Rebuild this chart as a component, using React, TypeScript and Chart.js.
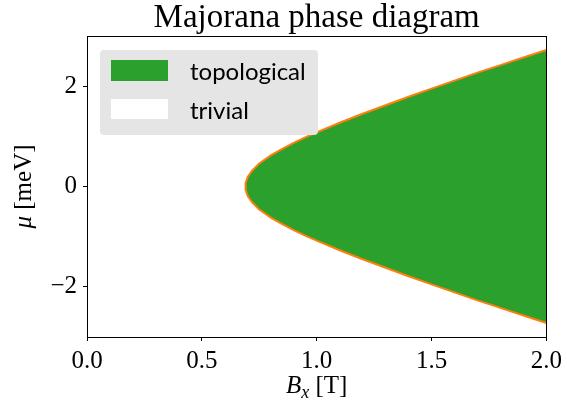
import { useEffect, useRef } from "react";
import { Chart, registerables } from "chart.js";

Chart.register(...registerables);

// Magnetic field values along the phase boundary [T]
const fieldB = [0.69, 0.691, 0.695, 0.7, 0.71, 0.72, 0.75, 0.8, 0.85, 0.9, 0.95, 1.0, 1.1, 1.2, 1.3, 1.4, 1.5, 1.6, 1.7, 1.8, 1.9, 2.0];
// Upper edge of the topological region, chemical potential [meV]
const muUpper = [0.0, 0.07, 0.13, 0.19, 0.26, 0.32, 0.46, 0.62, 0.75, 0.87, 0.98, 1.08, 1.27, 1.45, 1.62, 1.79, 1.95, 2.11, 2.27, 2.42, 2.57, 2.72];
// Lower edge of the topological region, chemical potential [meV]
const muLower = [0.0, -0.07, -0.13, -0.19, -0.26, -0.32, -0.46, -0.62, -0.75, -0.87, -0.98, -1.08, -1.27, -1.45, -1.62, -1.79, -1.95, -2.11, -2.27, -2.42, -2.57, -2.72];

const xTicks = [0, 0.5, 1.0, 1.5, 2.0];
const yTicks = [-2, 0, 2];
const legendLabels = ["topological", "trivial"];

const GREEN = "#2ca02c";
const ORANGE = "#ff7f0e";
const SERIF = "'Liberation Serif', 'DejaVu Serif', serif";
const SANS = "Lato, 'DejaVu Sans', sans-serif";

const decorations = {
  id: "decorations",
  afterDatasetsDraw(chart: Chart) {
    const { ctx, chartArea } = chart;
    const { left, right, top, bottom } = chartArea;
    ctx.save();
    // axes frame
    ctx.strokeStyle = "#000";
    ctx.lineWidth = 1;
    ctx.strokeRect(Math.round(left) + 0.5, Math.round(top) + 0.5, Math.round(right - left), Math.round(bottom - top));

    // legend
    ctx.fillStyle = "#e5e5e5";
    ctx.beginPath();
    (ctx as any).roundRect(100, 50, 218, 85, 4);
    ctx.fill();
    ctx.fillStyle = GREEN;
    ctx.fillRect(111, 60, 57, 21);
    ctx.fillStyle = "#ffffff";
    ctx.fillRect(111, 99, 57, 20);
    ctx.fillStyle = "#000";
    ctx.font = `24px ${SANS}`;
    ctx.textAlign = "left";
    ctx.textBaseline = "alphabetic";
    ctx.fillText(legendLabels[0], 190, 80);
    ctx.fillText(legendLabels[1], 190, 119);
    ctx.restore();
  },
  afterDraw(chart: Chart) {
    const { ctx, chartArea } = chart;
    const cx = (chartArea.left + chartArea.right) / 2;
    const cy = (chartArea.top + chartArea.bottom) / 2;
    ctx.save();
    ctx.fillStyle = "#000";
    ctx.textBaseline = "alphabetic";

    // title
    ctx.font = `33px ${SERIF}`;
    ctx.textAlign = "center";
    ctx.fillText("Majorana phase diagram", cx, 27);

    // x axis title: B_x [T]
    ctx.textAlign = "left";
    const fMain = `italic 25px ${SERIF}`;
    const fSub = `italic 18px ${SERIF}`;
    const fUnit = `25px ${SERIF}`;
    ctx.font = fMain;
    const wB = ctx.measureText("B").width;
    ctx.font = fSub;
    const wx = ctx.measureText("x").width;
    ctx.font = fUnit;
    const wT = ctx.measureText(" [T]").width;
    const x0 = cx - (wB + wx + wT) / 2;
    const by = 393;
    ctx.font = fMain;
    ctx.fillText("B", x0, by);
    ctx.font = fSub;
    ctx.fillText("x", x0 + wB, by + 5);
    ctx.font = fUnit;
    ctx.fillText(" [T]", x0 + wB + wx, by);

    // y axis title: mu [meV]
    ctx.translate(31, cy);
    ctx.rotate(-Math.PI / 2);
    ctx.font = fMain;
    const wMu = ctx.measureText("\u03bc").width;
    ctx.font = fUnit;
    const wMeV = ctx.measureText(" [meV]").width;
    const y0 = -(wMu + wMeV) / 2;
    ctx.font = fMain;
    ctx.fillText("\u03bc", y0, 0);
    ctx.font = fUnit;
    ctx.fillText(" [meV]", y0 + wMu, 0);
    ctx.restore();
  },
};

export default function App() {
  const ref = useRef<HTMLCanvasElement>(null);

  useEffect(() => {
    const lower = fieldB.map((b, i) => ({ x: b, y: muLower[i] })).reverse();
    const upper = fieldB.map((b, i) => ({ x: b, y: muUpper[i] })).slice(1);
    const boundary = [...lower, ...upper];

    const tickFont = { family: SERIF, size: 25 };

    const chart = new Chart(ref.current!, {
      type: "scatter",
      data: {
        datasets: [
          {
            data: boundary,
            showLine: true,
            borderColor: ORANGE,
            borderWidth: 2,
            backgroundColor: GREEN,
            fill: "shape" as any,
            pointRadius: 0,
            pointHoverRadius: 0,
            tension: 0,
          },
        ],
      },
      options: {
        animation: false,
        responsive: false,
        devicePixelRatio: 1,
        events: [],
        layout: { padding: { top: 36, right: 15, left: 0, bottom: 0 } },
        plugins: {
          legend: { display: false },
          title: { display: false },
          tooltip: { enabled: false },
        },
        scales: {
          x: {
            type: "linear",
            min: 0,
            max: 2,
            afterBuildTicks: (s: any) => {
              s.ticks = xTicks.map((v) => ({ value: v }));
            },
            afterFit: (s: any) => {
              s.height = 71;
            },
            ticks: {
              font: tickFont,
              color: "#000",
              padding: 5,
              maxRotation: 0,
              callback: (v: any) => Number(v).toFixed(1),
            },
            grid: { display: true, drawOnChartArea: false, drawTicks: true, tickLength: 4, color: "#000", lineWidth: 1 },
            border: { display: false },
          },
          y: {
            type: "linear",
            min: -3,
            max: 3,
            afterBuildTicks: (s: any) => {
              s.ticks = yTicks.map((v) => ({ value: v }));
            },
            afterFit: (s: any) => {
              s.width = 87;
            },
            ticks: {
              font: tickFont,
              color: "#000",
              padding: 6,
              callback: (v: any) => (Number(v) < 0 ? "\u2212" + Math.abs(Number(v)) : String(v)),
            },
            grid: { display: true, drawOnChartArea: false, drawTicks: true, tickLength: 4, color: "#000", lineWidth: 1 },
            border: { display: false },
          },
        },
      },
      plugins: [decorations],
    });

    return () => chart.destroy();
  }, []);

  return (
    <div style={{ position: "absolute", left: 0, top: 0, width: 567, height: 408, background: "#fff" }}>
      <canvas ref={ref} width={567} height={408} />
    </div>
  );
}
